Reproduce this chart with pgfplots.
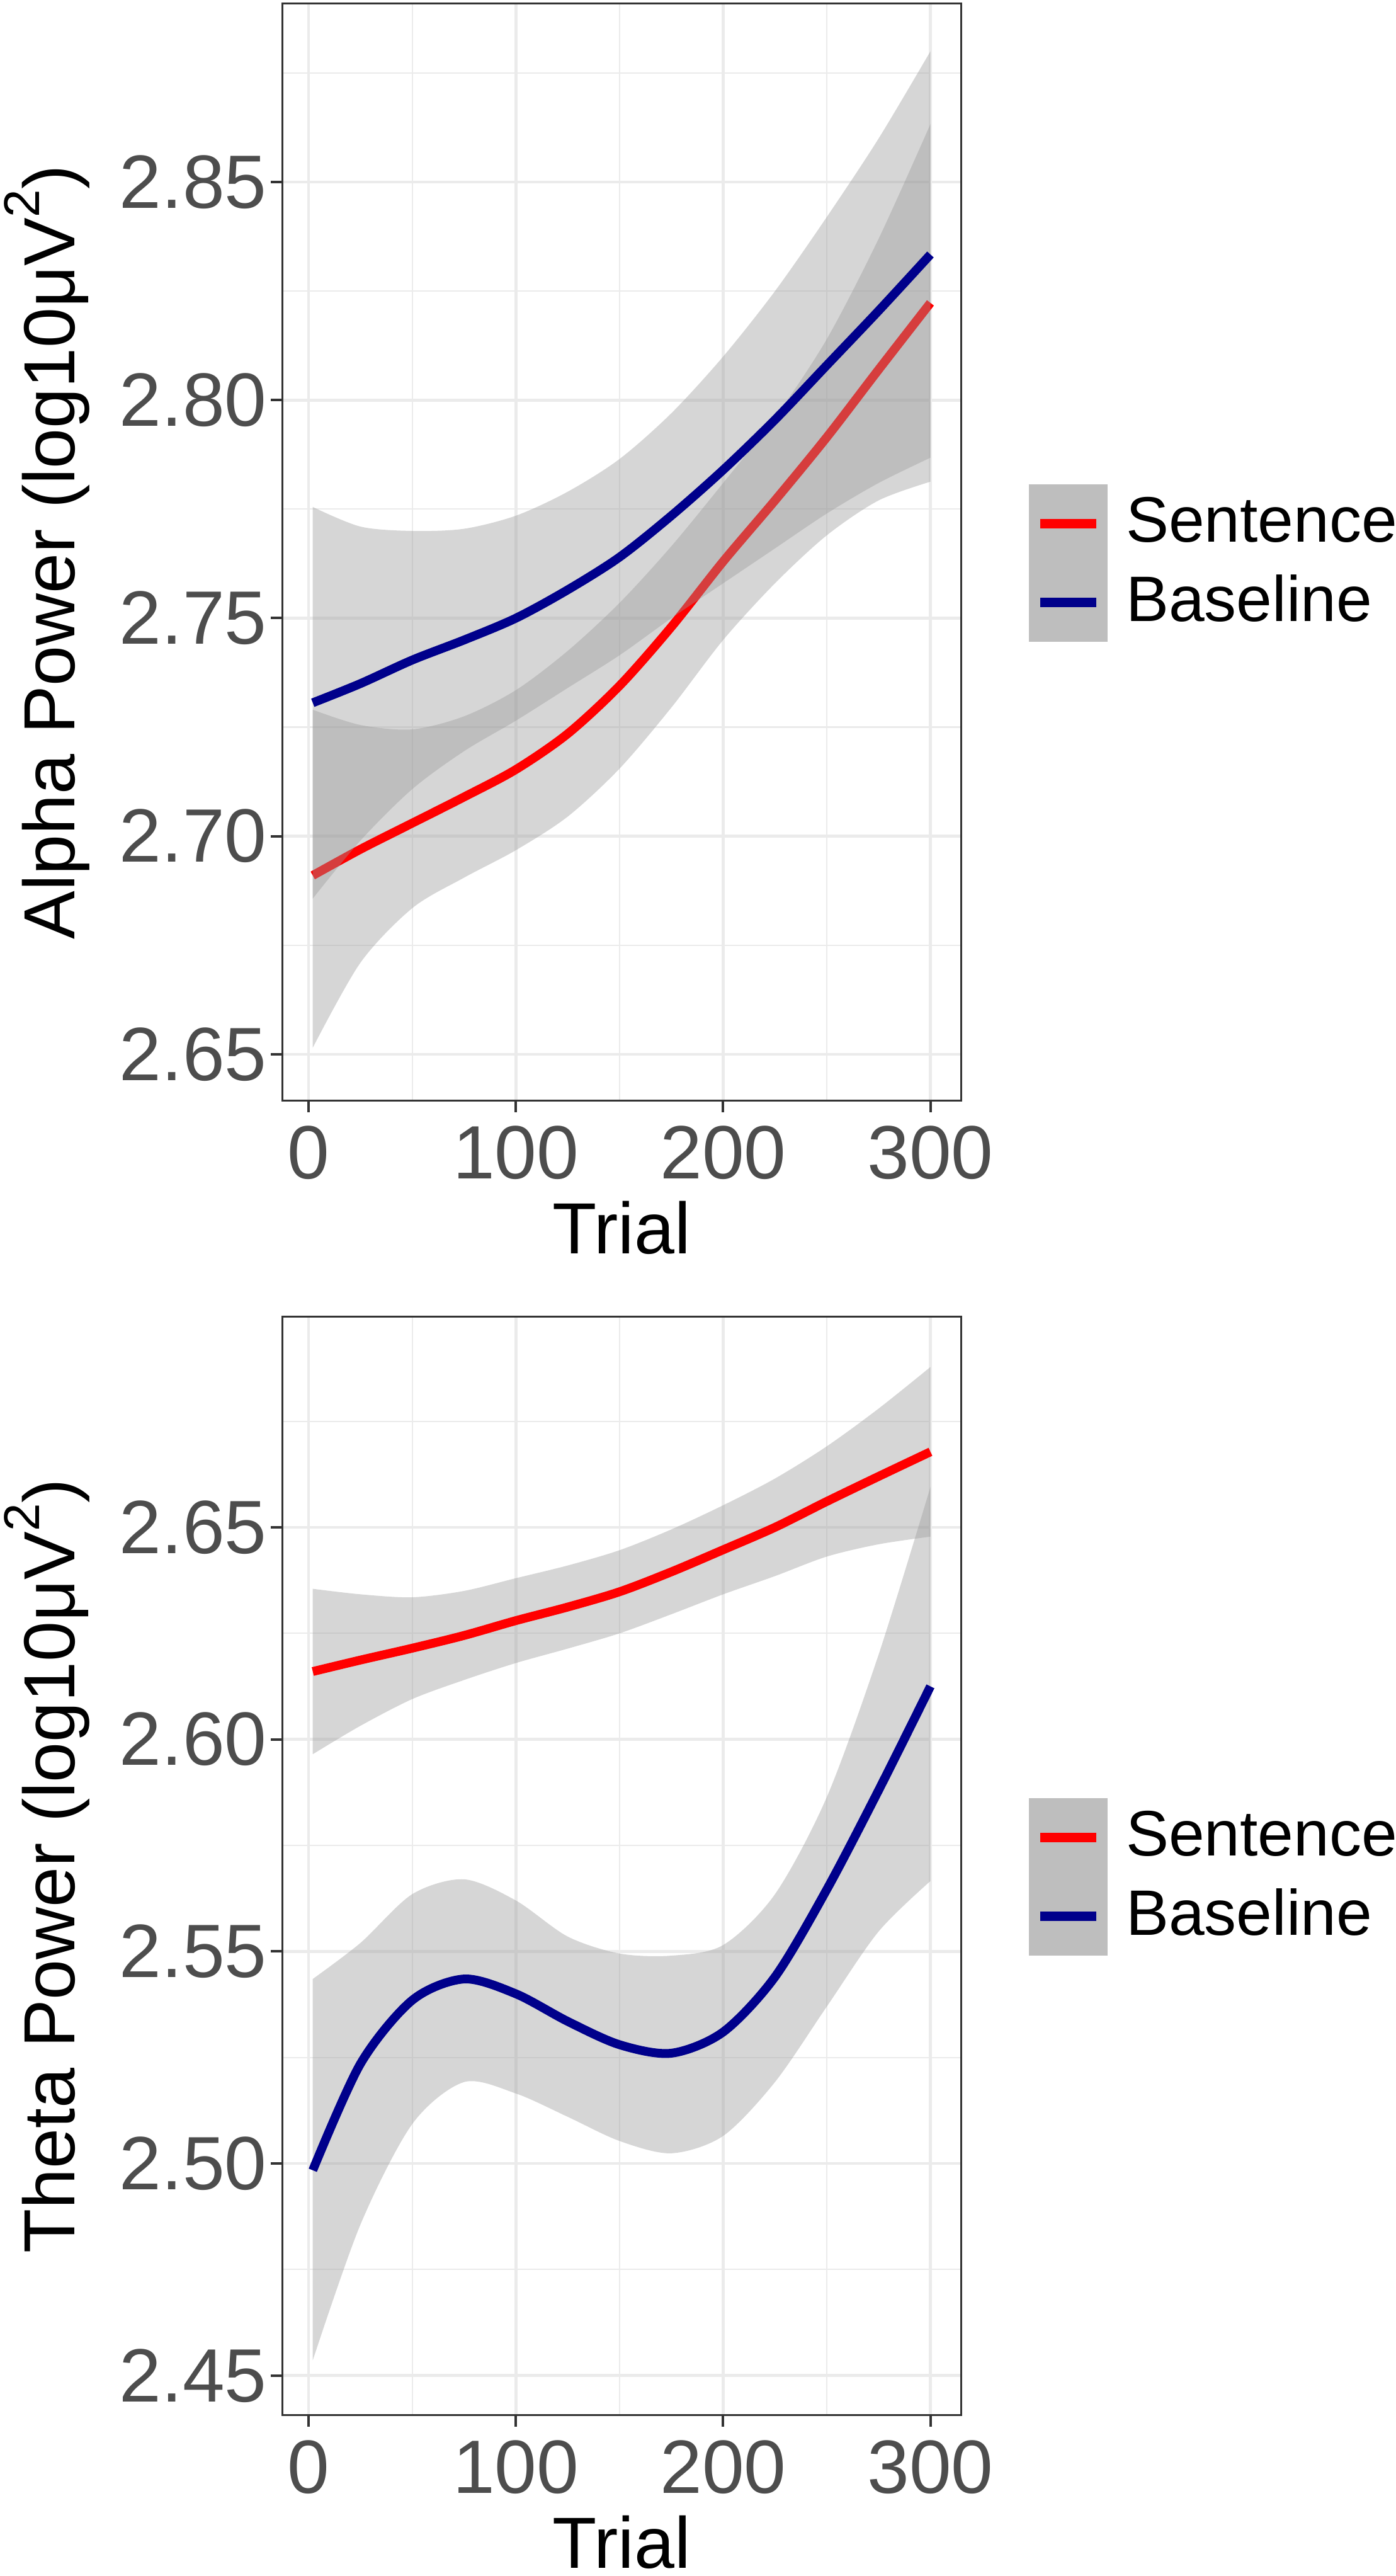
\documentclass[border=0pt]{standalone}
\usepackage{fontspec}
\setmainfont{Liberation Sans}
\usepackage{pgfplots}
\pgfplotsset{compat=1.18}
\usepgfplotslibrary{fillbetween}
\definecolor{tickgray}{HTML}{4D4D4D}
\definecolor{framegray}{HTML}{333333}
\definecolor{gridgray}{HTML}{EBEBEB}
\definecolor{keygray}{RGB}{190,190,190}
\definecolor{sentred}{HTML}{FF0000}
\definecolor{baseblue}{HTML}{00008B}
\pgfplotsset{
  layers/ribbonset/.define layer set={
    axis background,axis grid,axis ticks,axis lines,axis tick labels,
    pre main,main,riblayer,linelayer,axis descriptions,axis foreground
  }{/pgfplots/layers/standard},
  panel/.style={
    set layers=ribbonset,
    scale only axis, width=107.8pt, anchor=south west,
    xmin=-12.8, xmax=314.7,
    xtick={0,100,200,300}, xticklabels={0,100,200,300},
    minor xtick={50,150,250},
    grid=both,
    major grid style={draw=gridgray, line width=0.45pt},
    minor grid style={draw=gridgray, line width=0.22pt},
    tick align=outside, major tick length=1.8pt, minor tick length=0pt,
    xtick pos=left, ytick pos=left,
    tick style={draw=framegray, line width=0.4pt},
    axis line style={draw=framegray, line width=0.3pt},
    ticklabel style={font=\fontsize{12}{12}\selectfont, text=tickgray, inner sep=0pt},
    xticklabel style={anchor=north, inner sep=0pt, yshift=-2.0pt},
    yticklabel style={anchor=east, inner sep=0pt, xshift=-0.45pt},
    every axis x label/.style={at={(rel axis cs:0.5,0)}, anchor=base, yshift=-24.3pt, font=\fontsize{11.5}{11.5}\selectfont, inner sep=0pt},
    every axis y label/.style={at={(rel axis cs:0,0.5)}, xshift=-33pt, rotate=90, anchor=base, font=\fontsize{11.5}{11.5}\selectfont, inner sep=0pt},
    xlabel={Trial},
    legend style={at={(rel axis cs:1,0.5)}, anchor=west, xshift=10.8pt, yshift=-1.75pt, draw=none, fill=none, inner sep=0pt, outer sep=0pt, row sep=0pt, column sep=0pt, font=\fontsize{10.2}{10.2}\selectfont, nodes={inner sep=0pt}},
    legend cell align=left,
    legend image code/.code={
      \fill[keygray] (0pt,-5.55pt) rectangle (11.1pt,5.55pt);
      \draw[##1, line width=1.5pt] (1.1pt,0pt) -- (10pt,0pt);
      \path (14.0pt,0pt);
    },
  },
  ribbon/.style={draw=none, fill=black!40, fill opacity=0.4, forget plot},
  edge/.style={draw=none, forget plot, smooth},
  fitline/.style={line width=1.4pt, smooth, no markers},
}
\begin{document}
\begin{tikzpicture}
% ---------- Alpha ----------
\begin{axis}[panel, at={(44.8pt,234.2pt)}, height=174.2pt,
  ymin=2.6393, ymax=2.8909,
  ytick={2.65,2.70,2.75,2.80,2.85}, yticklabels={2.65,2.70,2.75,2.80,2.85},
  minor ytick={2.675,2.725,2.775,2.825,2.875},
  ylabel={Alpha Power (log10μV\raisebox{5.6pt}{\fontsize{8}{8}\selectfont 2})}]
\addplot[edge, name path=al1] coordinates {
(2,2.6515) (25,2.671) (50,2.6835) (75,2.6905) (100,2.6968) (125,2.7045) (150,2.7155)
(175,2.7295) (200,2.745) (225,2.758) (250,2.769) (275,2.777) (300,2.7813)};
\addplot[edge, name path=au1] coordinates {
(2,2.729) (25,2.7255) (50,2.7245) (75,2.7275) (100,2.7335) (125,2.7425) (150,2.7535)
(175,2.7665) (200,2.781) (225,2.796) (250,2.814) (275,2.837) (300,2.8633)};
\addplot[ribbon] fill between[of=al1 and au1];
\addplot[fitline, sentred] coordinates {
(2,2.691) (25,2.697) (50,2.703) (75,2.709) (100,2.7153) (125,2.7235) (150,2.7345)
(175,2.748) (200,2.763) (225,2.777) (250,2.7915) (275,2.807) (300,2.8223)};
\addlegendentry{Sentence}
\addplot[edge, name path=al2] coordinates {
(2,2.6857) (25,2.699) (50,2.7108) (75,2.7195) (100,2.7265) (125,2.734) (150,2.7415)
(175,2.75) (200,2.758) (225,2.766) (250,2.774) (275,2.781) (300,2.7868)};
\addplot[edge, name path=au2] coordinates {
(2,2.7755) (25,2.771) (50,2.770) (75,2.7705) (100,2.7735) (125,2.779) (150,2.7865)
(175,2.797) (200,2.810) (225,2.825) (250,2.842) (275,2.860) (300,2.880)};
\addplot[ribbon] fill between[of=al2 and au2, on layer=riblayer];
\addplot[fitline, baseblue, on layer=linelayer] coordinates {
(2,2.7306) (25,2.735) (50,2.7404) (75,2.745) (100,2.750) (125,2.7565) (150,2.764)
(175,2.7735) (200,2.784) (225,2.7955) (250,2.808) (275,2.8205) (300,2.8334)};
\addlegendentry{Baseline}
\end{axis}
% ---------- Theta ----------
\begin{axis}[panel, at={(44.8pt,25.5pt)}, height=174.4pt,
  ymin=2.4406, ymax=2.6996,
  ytick={2.45,2.50,2.55,2.60,2.65}, yticklabels={2.45,2.50,2.55,2.60,2.65},
  minor ytick={2.475,2.525,2.575,2.625,2.675},
  ylabel={Theta Power (log10μV\raisebox{5.6pt}{\fontsize{8}{8}\selectfont 2})}]
\addplot[edge, name path=tl1] coordinates {
(2,2.5965) (25,2.6032) (50,2.6095) (75,2.614) (100,2.618) (125,2.6214) (150,2.625)
(175,2.6295) (200,2.6342) (225,2.6385) (250,2.6431) (275,2.646) (300,2.6478)};
\addplot[edge, name path=tu1] coordinates {
(2,2.6355) (25,2.6342) (50,2.6335) (75,2.635) (100,2.638) (125,2.641) (150,2.6446)
(175,2.6495) (200,2.6552) (225,2.6615) (250,2.6691) (275,2.678) (300,2.6878)};
\addplot[ribbon] fill between[of=tl1 and tu1];
\addplot[fitline, sentred] coordinates {
(2,2.616) (25,2.6187) (50,2.6215) (75,2.6245) (100,2.628) (125,2.6312) (150,2.6348)
(175,2.6395) (200,2.6447) (225,2.650) (250,2.6561) (275,2.662) (300,2.6678)};
\addlegendentry{Sentence}
\addplot[edge, name path=tl2] coordinates {
(2,2.4536) (25,2.4856) (50,2.5093) (75,2.5192) (100,2.5165) (125,2.511) (150,2.5053)
(175,2.5024) (200,2.5065) (225,2.5192) (250,2.537) (275,2.5547) (300,2.5666)};
\addplot[edge, name path=tu2] coordinates {
(2,2.5435) (25,2.552) (50,2.5635) (75,2.567) (100,2.562) (125,2.5535) (150,2.5495)
(175,2.549) (200,2.5515) (225,2.5635) (250,2.5864) (275,2.620) (300,2.6595)};
\addplot[ribbon] fill between[of=tl2 and tu2, on layer=riblayer];
\addplot[fitline, baseblue, on layer=linelayer] coordinates {
(2,2.4984) (25,2.5235) (50,2.5385) (75,2.5435) (100,2.540) (125,2.5335) (150,2.528)
(175,2.526) (200,2.531) (225,2.544) (250,2.5646) (275,2.588) (300,2.6125)};
\addlegendentry{Baseline}
\end{axis}
\pgfresetboundingbox
\useasboundingbox (0,0) rectangle (221.7pt,409pt);
\end{tikzpicture}
\end{document}
